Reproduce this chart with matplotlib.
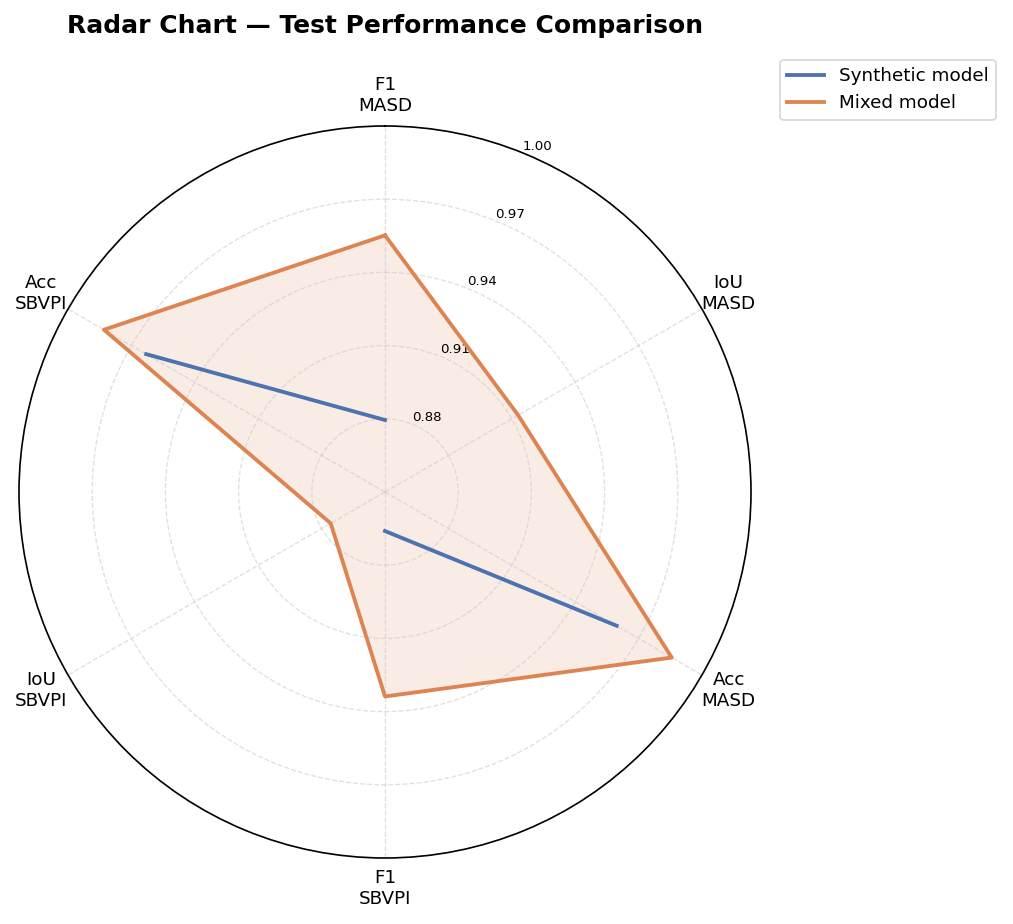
import numpy as np
import matplotlib.pyplot as plt

# categories and values
labels = ['F1\nMASD', 'IoU\nMASD', 'Acc\nMASD', 'F1\nSBVPI', 'IoU\nSBVPI', 'Acc\nSBVPI']
synthetic = [0.8795, np.nan, 0.9596, 0.866, np.nan, 0.963]
mixed = [0.9552, 0.913, 0.9857, 0.9338, 0.8757, 0.983]
rticks = [0.88, 0.91, 0.94, 0.97, 1.00]

color_syn = '#4C72B0'
color_mix = '#DD8452'

angles = np.linspace(0, 2 * np.pi, len(labels), endpoint=False)
angles_c = np.append(angles, angles[0])

fig = plt.figure(figsize=(1014 / 120, 924 / 120), dpi=120)
ax = fig.add_axes([19 / 1014, 66 / 924, 732 / 1014, 732 / 924], projection='polar')
ax.set_theta_offset(np.pi / 2)
ax.set_theta_direction(-1)

syn_c = np.append(synthetic, synthetic[0])
mix_c = np.append(mixed, mixed[0])

ax.plot(angles_c, syn_c, color=color_syn, linewidth=2.3, label='Synthetic model')
ax.fill(angles_c, syn_c, color=color_syn, alpha=0.15)
ax.plot(angles_c, mix_c, color=color_mix, linewidth=2.3, label='Mixed model')
ax.fill(angles_c, mix_c, color=color_mix, alpha=0.15)

ax.set_ylim(0.85, 1.00)
ax.set_yticks(rticks)
ax.set_yticklabels([f'{t:.2f}' for t in rticks], fontsize=8)
ax.set_rlabel_position(22)
ax.set_xticks(angles)
ax.set_xticklabels(labels, fontsize=11)
ax.tick_params(axis='x', pad=8)
ax.grid(color='#cccccc', linestyle='--', linewidth=0.8, alpha=0.6)
ax.spines['polar'].set_color('black')
ax.spines['polar'].set_linewidth(1.0)

fig.text(385 / 1014, 1 - 26 / 924, 'Radar Chart \u2014 Test Performance Comparison',
         fontsize=15, fontweight='bold', ha='center', va='center')
ax.legend(loc='upper left', bbox_to_anchor=(780 / 1014, 1 - 60 / 924),
          bbox_transform=fig.transFigure, borderaxespad=0, fontsize=11)

fig.savefig('out.png', dpi=120)
